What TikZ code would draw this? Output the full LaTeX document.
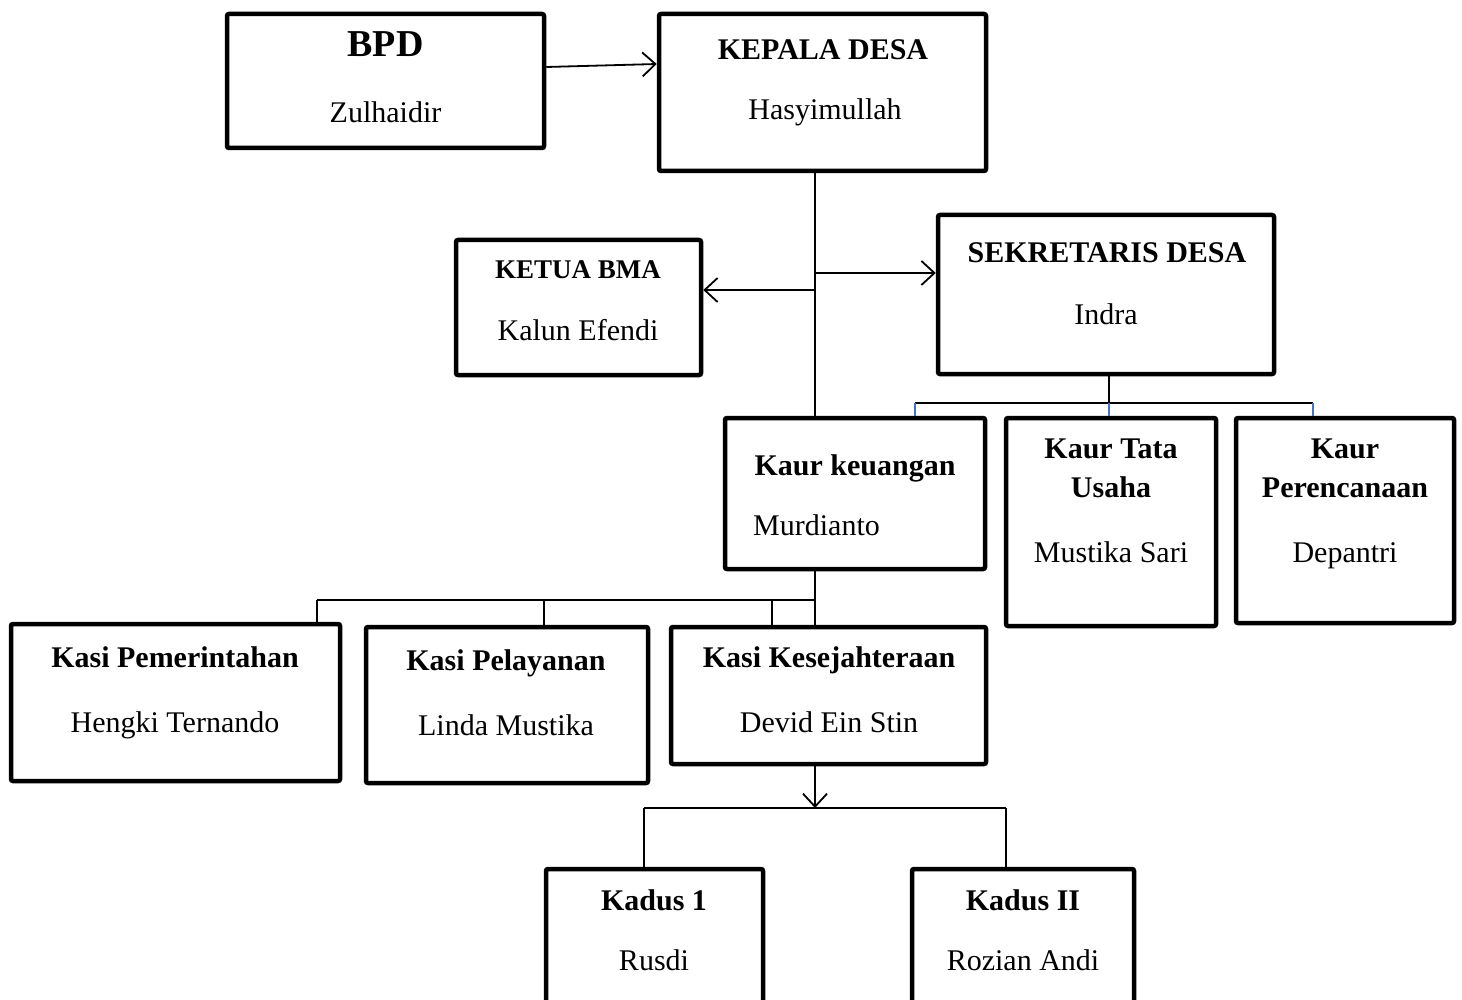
\documentclass[tikz,border=0pt]{standalone}
\usepackage{fontspec}
\setmainfont{Liberation Serif}
\usetikzlibrary{arrows.meta}
\definecolor{tickblue}{RGB}{68,114,196}
\begin{document}
\begin{tikzpicture}[x=1pt,y=-1pt,
  box/.style={draw, line width=4.5pt, rounded corners=2pt, inner sep=0pt},
  conn/.style={line width=1.8pt},
  arr/.style={conn, -{Straight Barb[length=13pt,width=24pt]}},
  tickln/.style={line width=1.8pt, draw=tickblue},
  hd/.style={font=\fontsize{30}{36}\selectfont\bfseries, inner sep=0pt, anchor=base},
  nm/.style={font=\fontsize{30}{36}\selectfont, inner sep=0pt, anchor=base}]
\useasboundingbox (0,0) rectangle (1462,1000);
\fill[white] (0,0) rectangle (1462,1000);
\clip (0,0) rectangle (1462,1000);

% boxes
\node[box, minimum width=317pt, minimum height=134pt] (bpd) at (385.5,81) {};
\node[box, minimum width=327pt, minimum height=157pt] (kep) at (822.5,92.5) {};
\node[box, minimum width=245pt, minimum height=135pt] (bma) at (578.5,307.5) {};
\node[box, minimum width=336pt, minimum height=159pt] (sek) at (1106,294.5) {};
\node[box, minimum width=260pt, minimum height=151pt] (kk) at (855,493.5) {};
\node[box, minimum width=210pt, minimum height=208pt] (tu) at (1111,522) {};
\node[box, minimum width=218pt, minimum height=205pt] (per) at (1345,520.5) {};
\node[box, minimum width=329pt, minimum height=157pt] (pem) at (175.5,702.5) {};
\node[box, minimum width=282pt, minimum height=156pt] (pel) at (507,705) {};
\node[box, minimum width=315pt, minimum height=137pt] (kes) at (828.5,695.5) {};
\node[box, minimum width=217pt, minimum height=180pt] (kd1) at (654.5,959) {};
\node[box, minimum width=222pt, minimum height=180pt] (kd2) at (1023,959) {};

% texts
\node[hd, font=\fontsize{38}{44}\selectfont\bfseries] (tbpd) at (385.5,57) {BPD};
\node[nm] (nbpd) at (385.5,123) {Zulhaidir};
\node[hd] (tkep) at (823,60) {KEPALA DESA};
\node[nm] (nkep) at (825,120) {Hasyimullah};
\node[hd, font=\fontsize{27}{32}\selectfont\bfseries] (tbma) at (578,279) {KETUA BMA};
\node[nm] (nbma) at (578,341) {Kalun Efendi};
\node[hd] (tsek) at (1107,263) {SEKRETARIS DESA};
\node[nm] (nsek) at (1106,324) {Indra};
\node[hd] (tkk) at (855,475) {Kaur keuangan};
\node[nm, anchor=base west] (nkk) at (753,535) {Murdianto};
\node[hd] (ttu1) at (1111,458) {Kaur Tata};
\node[hd] (ttu2) at (1111,497) {Usaha};
\node[nm] (ntu) at (1111,562) {Mustika Sari};
\node[hd] (tper1) at (1345,458) {Kaur};
\node[hd] (tper2) at (1345,497) {Perencanaan};
\node[nm] (nper) at (1345,562) {Depantri};
\node[hd] (tpem) at (175,667) {Kasi Pemerintahan};
\node[nm] (npem) at (175,732) {Hengki Ternando};
\node[hd] (tpel) at (506,670) {Kasi Pelayanan};
\node[nm] (npel) at (506,735) {Linda Mustika};
\node[hd] (tkes) at (829,667) {Kasi Kesejahteraan};
\node[nm] (nkes) at (829,732) {Devid Ein Stin};
\node[hd] (tkd1) at (654,910) {Kadus 1};
\node[nm] (nkd1) at (654,970) {Rusdi};
\node[hd] (tkd2) at (1023,910) {Kadus II};
\node[nm] (nkd2) at (1023,970) {Rozian Andi};

% connector coordinates
\coordinate (a1) at (0,67);
\coordinate (a2) at (0,64);
\coordinate (tr) at (815,0);
\coordinate (jb) at (815,290);
\coordinate (js) at (815,273);
\coordinate (sb) at (1109,403);
\coordinate (sbl) at (915,403);
\coordinate (sbr) at (1313,403);
\coordinate (kb) at (815,600);
\coordinate (kb1) at (317,600);
\coordinate (kb2) at (544,600);
\coordinate (kb3) at (772,600);
\coordinate (dd) at (815,808);
\coordinate (dl) at (644,808);
\coordinate (dr) at (1006,808);

% connectors
\draw[arr] (bpd.east |- a1) -- (kep.west |- a2);
\draw[conn] (tr |- kep.south) -- (tr |- kk.north);
\draw[arr] (jb) -- (bma.east |- jb);
\draw[arr] (js) -- (sek.west |- js);
\draw[conn] (sb |- sek.south) -- (sb);
\draw[conn] (sbl) -- (sbr);
\draw[tickln] (sbl) -- (sbl |- kk.north);
\draw[tickln] (sb) -- (sb |- tu.north);
\draw[tickln] (sbr) -- (sbr |- per.north);
\draw[conn] (tr |- kk.south) -- (tr |- kes.north);
\draw[conn] (kb1) -- (kb);
\draw[conn] (kb1) -- (kb1 |- pem.north);
\draw[conn] (kb2) -- (kb2 |- pel.north);
\draw[conn] (kb3) -- (kb3 |- kes.north);
\draw[arr] (tr |- kes.south) -- (dd);
\draw[conn] (dl) -- (dr);
\draw[conn] (dl) -- (dl |- kd1.north);
\draw[conn] (dr) -- (dr |- kd2.north);
\end{tikzpicture}
\end{document}
